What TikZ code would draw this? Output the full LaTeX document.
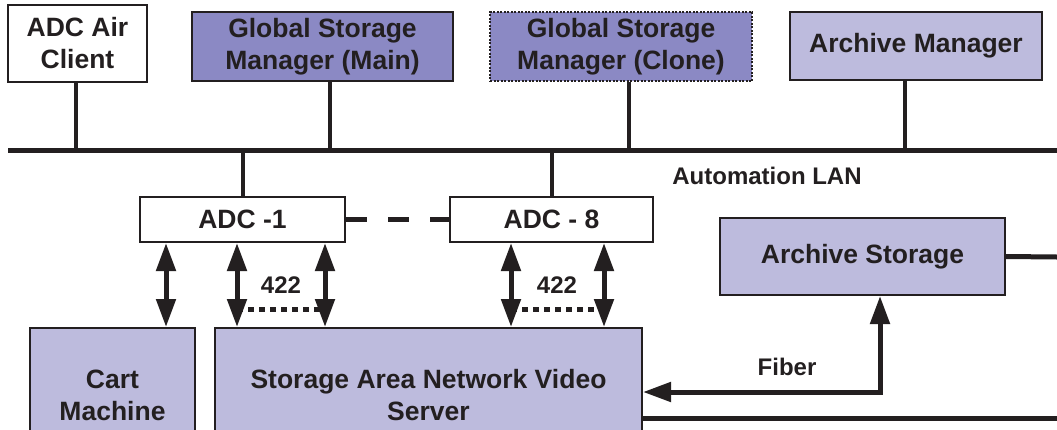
\documentclass[tikz,border=0pt]{standalone}
\usepackage{fontspec}
\setmainfont{Liberation Sans}
\usetikzlibrary{arrows.meta}
\definecolor{gsmblue}{RGB}{139,137,196}
\definecolor{lilac}{RGB}{189,187,221}
\definecolor{ink}{RGB}{35,31,32}
\tikzset{
  box/.style={draw=ink, line width=2pt, align=center, inner sep=0pt, text=ink,
    font=\fontsize{26.5}{32}\selectfont\bfseries},
  link/.style={ink, line width=5pt},
  drop/.style={ink, line width=4pt},
  twoway/.style={ink, line width=5pt, {Triangle[length=28pt,width=19pt]}-{Triangle[length=28pt,width=19pt]}},
  lbl/.style={text=ink, font=\fontsize{24}{28}\selectfont\bfseries}
}
\begin{document}
\begin{tikzpicture}[x=1pt,y=-1pt]
  \useasboundingbox (0,0) rectangle (1057,429);
  % top row
  \node[box, fill=white, minimum width=139pt, minimum height=77pt] (client) at (77.5,43.5) {ADC Air\\Client};
  \node[box, fill=gsmblue, minimum width=261pt, minimum height=69pt] (gsmmain) at (322.5,46.5) {Global Storage\\Manager (Main)};
  \node[box, fill=gsmblue, dash pattern=on 2pt off 1.5pt, minimum width=262pt, minimum height=69pt] (gsmclone) at (621,46.5) {Global Storage\\Manager (Clone)};
  \node[box, fill=lilac, minimum width=252pt, minimum height=68pt] (archmgr) at (916,46) {Archive Manager};
  % automation LAN
  \coordinate (lanL) at (8,150);
  \coordinate (lanR) at (1057,150);
  \draw[link] (lanL) -- (lanR);
  \node[lbl] (lan) at (767,176) {Automation LAN};
  \foreach \n/\x in {client/75.5, gsmmain/330, gsmclone/629, archmgr/905}
    \draw[drop] (\x,0 |- \n.south) -- (\x,0 |- lanL);
  % ADCs
  \node[box, fill=white, minimum width=205pt, minimum height=45pt] (adc1) at (242.5,219.5) {ADC -1};
  \node[box, fill=white, minimum width=203pt, minimum height=45pt] (adc8) at (551.5,219.5) {ADC - 8};
  \draw[drop] (adc1.north) -- (adc1.north |- lanL);
  \draw[drop] (adc8.north) -- (adc8.north |- lanL);
  \draw[link, dash pattern=on 21pt off 21pt] (adc1.east) -- (adc8.west);
  % bottom row
  \node[box, fill=lilac, minimum width=165pt, minimum height=134pt] (cart) at (112.5,395) {Cart\\Machine};
  \node[box, fill=lilac, minimum width=427pt, minimum height=134pt] (san) at (428.5,395) {Storage Area Network Video\\Server};
  \node[box, fill=lilac, minimum width=285pt, minimum height=77pt] (archstore) at (862.5,256.5) {Archive Storage};
  \foreach \x/\up/\down in {166/adc1/cart, 237/adc1/san, 325/adc1/san, 511/adc8/san, 604/adc8/san}
    \draw[twoway] (\x,0 |- \up.south) -- (\x,0 |- \down.north);
  % 422 links
  \coordinate (d1) at (237,309);
  \coordinate (d2) at (325,309);
  \coordinate (d3) at (511,309);
  \coordinate (d4) at (604,309);
  \draw[link, dash pattern=on 6pt off 5pt] (d1) -- (d2);
  \draw[link, dash pattern=on 6pt off 5pt] (d3) -- (d4);
  \node[lbl] (rs1) at (281,285) {422};
  \node[lbl] (rs8) at (557,285) {422};
  % fiber and storage links
  \coordinate (bend) at (880,392);
  \draw[twoway] (san.east |- bend) -- (bend) -- (bend |- archstore.south);
  \node[lbl] (fiber) at (787,367) {Fiber};
  \coordinate (storR) at (1057,257);
  \draw[link] (archstore.east) -- (storR);
  \coordinate (outR) at (1057,418);
  \draw[link] (san.east |- outR) -- (outR);
\end{tikzpicture}
\end{document}
